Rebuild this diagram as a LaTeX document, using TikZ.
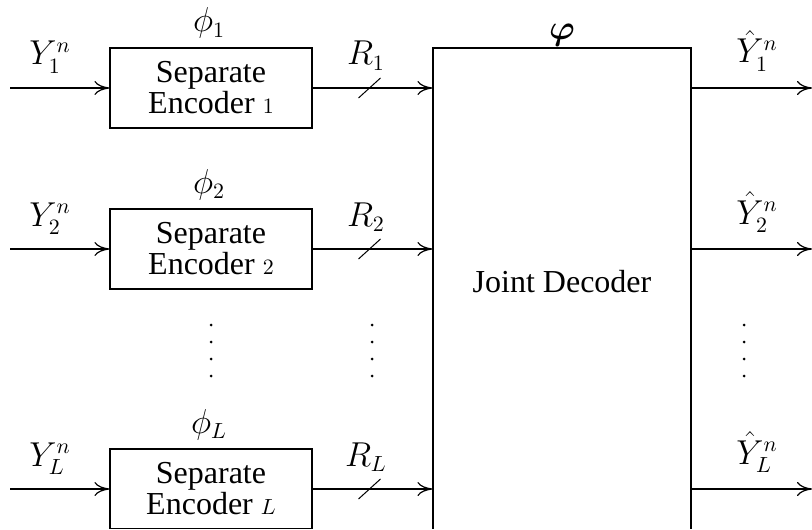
\documentclass[tikz,border=0pt]{standalone}
\usepackage{amsmath}
\usepackage{bm}
\usepackage{fontspec}
\setmainfont{Liberation Serif}
\usetikzlibrary{arrows.meta,calc}

\begin{document}
\begin{tikzpicture}[x=0.5pt,y=-0.5pt,
  every node/.style={font=\fontsize{16}{19}\selectfont},
  encbox/.style={draw, line width=0.6pt, minimum width=101pt, minimum height=40pt,
                 inner sep=0pt, align=center, font=\fontsize{16}{15.5}\selectfont},
  decbox/.style={draw, line width=0.6pt, minimum width=129pt, minimum height=245pt, inner sep=0pt},
  link/.style={line width=0.6pt, -{To[length=7.5pt,width=7pt]}},
  rateslash/.style={line width=0.5pt},
  lbl/.style={anchor=base, inner sep=0pt},
  dotmark/.style={fill=black},
]
\useasboundingbox (0,0) rectangle (812,529);
\clip (0,0) rectangle (812,528);

% encoders
\node[encbox] (enc1) at (211,88)  {Separate\\Encoder $\scriptstyle 1$};
\node[encbox] (enc2) at (211,249) {Separate\\Encoder $\scriptstyle 2$};
\node[encbox] (encL) at (211,489) {Separate\\Encoder $\scriptstyle L$};

% joint decoder
\node[decbox] (dec) at (562,293) {};
\node (dectext) at (562,282) {Joint Decoder};
\node[lbl] (phidec) at (562,40) {$\bm{\varphi}$};

% encoder labels
\node[lbl] (phi1) at (209,32)  {$\phi_1$};
\node[lbl] (phi2) at (209,193) {$\phi_2$};
\node[lbl] (phiL) at (209,433) {$\phi_L$};

% sources and sinks
\coordinate (in1) at (10,88);
\coordinate (in2) at (10,249);
\coordinate (inL) at (10,489);
\coordinate (out1) at (812,88);
\coordinate (out2) at (812,249);
\coordinate (outL) at (812,489);

\foreach \r in {1,2,L}{
  \draw[link] (in\r) -- (enc\r.west);
  \draw[link] (enc\r.east) -- (enc\r.east -| dec.west);
  \draw[link] (enc\r.east -| dec.east) -- (out\r);
  \coordinate (m\r) at ($(enc\r.east)!0.5!(enc\r.east -| dec.west)$);
  \draw[rateslash] ([shift={(-14,10)}]m\r) -- ([shift={(8,-10)}]m\r);
}

% signal labels
\node[lbl] (y1) at (50,65)  {$Y_1^n$};
\node[lbl] (y2) at (50,226) {$Y_2^n$};
\node[lbl] (yL) at (50,466) {$Y_L^n$};
\node[lbl] (r1) at (366,65)  {$R_1$};
\node[lbl] (r2) at (366,226) {$R_2$};
\node[lbl] (rL) at (366,466) {$R_L$};
\node[lbl] (yh1) at (757,63)  {$\hat{Y}_1^n$};
\node[lbl] (yh2) at (757,224) {$\hat{Y}_2^n$};
\node[lbl] (yhL) at (757,464) {$\hat{Y}_L^n$};

% vertical ellipses
\foreach \x in {211,372,744}{
  \foreach \y in {325,342,359,376}{
    \fill[dotmark] (\x,\y) circle (1.5);
  }
}
\end{tikzpicture}
\end{document}
